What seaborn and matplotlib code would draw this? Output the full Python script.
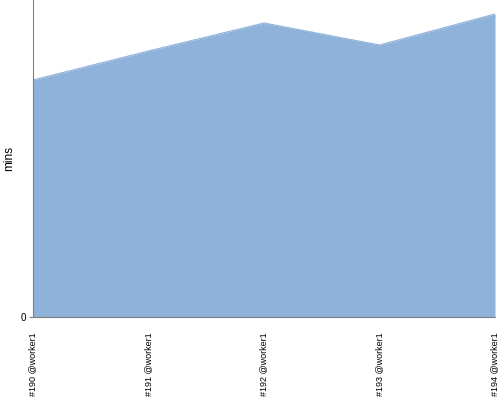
import matplotlib
matplotlib.use("Agg")
import matplotlib.pyplot as plt
import seaborn as sns
import pandas as pd

builds = ["#190 @worker1", "#191 @worker1", "#192 @worker1", "#193 @worker1", "#194 @worker1"]
mins = [237, 266, 294, 272, 303]

sns.set_style("white")
plt.rcParams['font.family'] = ['Liberation Sans', 'DejaVu Sans']

df = pd.DataFrame({"build": builds, "mins": mins})
df["x"] = range(len(builds))

fig = plt.figure(figsize=(5, 4), dpi=100)
ax = fig.add_axes([0.066, 0.2075, 0.924, 0.7925])
color = "#8fb2db"
sns.lineplot(data=df, x="x", y="mins", color=color, linewidth=0.8, ax=ax)
ax.fill_between(df["x"], 0, df["mins"], color=color, linewidth=0)

ax.set_xlim(0, len(builds) - 1)
ax.set_ylim(0, 317)
ax.set_xticks(df["x"])
ax.set_xticklabels(builds, rotation=90, fontsize=6.5, color="black")
ax.set_yticks([0])
ax.set_yticklabels(["0"], fontsize=7, color="black")
ax.set_ylabel("mins", fontsize=8.5, color="black")
ax.set_xlabel("")
for s in ["top", "right"]:
    ax.spines[s].set_visible(False)
for s in ["left", "bottom"]:
    ax.spines[s].set_color("#808080")
    ax.spines[s].set_linewidth(0.8)
ax.tick_params(axis="y", length=3, color="#808080", left=True, pad=2)
ax.tick_params(axis="x", length=0, pad=11)
fig.savefig("out.png", dpi=100)
